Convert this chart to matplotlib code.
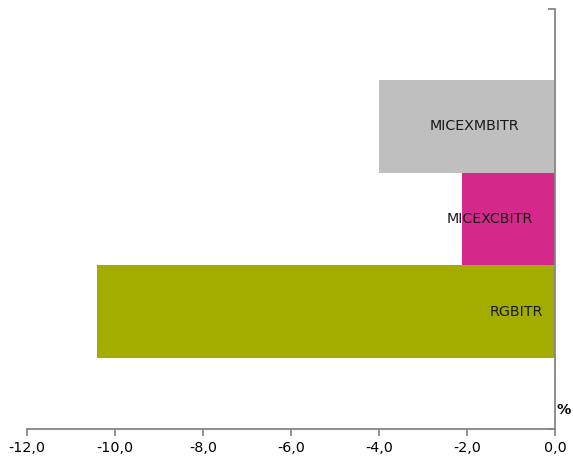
import matplotlib
matplotlib.use("Agg")
import matplotlib.pyplot as plt
from matplotlib.ticker import FuncFormatter

plt.rcParams['font.family'] = ['DejaVu Sans']
plt.rcParams['axes.unicode_minus'] = False

series = ["RGBITR", "MICEXCBITR", "MICEXMBITR"]
values = [-10.41, -2.12, -3.99]
colors = ["#A3AD00", "#D4298A", "#BFBFBF"]
label_x = [-0.89, -1.48, -1.82]
xticks = [-12, -10, -8, -6, -4, -2, 0]

fig = plt.figure(figsize=(5.73, 4.59), dpi=100)
ax = fig.add_axes([27/573, 30/459, 528/573, 420/459])

bar_h = 0.2214
centers = [0.5 - bar_h, 0.5, 0.5 + bar_h]
for name, v, c, c_y, lx in zip(series, values, colors, centers, label_x):
    ax.barh(c_y, v, height=bar_h, color=c, edgecolor='none')
    ax.text(lx, c_y, name, ha='center', va='center', fontsize=10.3, color='#1a1a1a')

ax.set_xlim(-12, 0)
ax.set_ylim(0, 1)
ax.set_xticks(xticks)
ax.xaxis.set_major_formatter(FuncFormatter(lambda v, p: f"{v:.1f}".replace('.', ',')))
ax.set_yticks([0, 1])
ax.set_yticklabels([])

for s in ['top', 'left']:
    ax.spines[s].set_visible(False)
for s in ['bottom', 'right']:
    ax.spines[s].set_color('#868686')
    ax.spines[s].set_linewidth(1.3)

ax.tick_params(axis='x', direction='out', length=5, width=1.3, color='#868686',
               labelsize=10.3, labelcolor='#000000', pad=4)
ax.yaxis.set_ticks_position('right')
ax.tick_params(axis='y', direction='in', length=5, width=1.3, color='#868686')

ax.text(1.003, 0.045, '%', transform=ax.transAxes, ha='left', va='center',
        fontsize=10.3, fontweight='bold')

fig.savefig('out.png', dpi=100)
